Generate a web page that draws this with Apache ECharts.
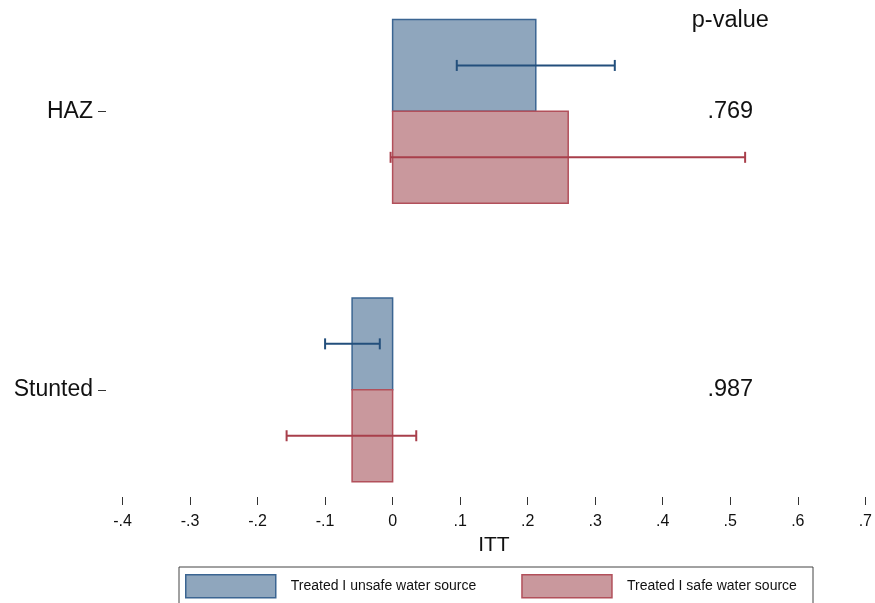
<!DOCTYPE html>
<html>
<head>
<meta charset="utf-8">
<script src="https://cdn.jsdelivr.net/npm/echarts@6/dist/echarts.min.js"></script>
<style>
  html, body { margin: 0; padding: 0; background: #fff; }
  #chart { width: 875px; height: 603px; }
</style>
</head>
<body>
<div id="chart"></div>
<script>
// Outcomes (top to bottom)
const categories = ['HAZ', 'Stunted'];

// Intention-to-treat estimates with 95% confidence bounds
const unsafeITT = [0.212, -0.060];
const unsafeLow = [0.095, -0.100];
const unsafeHigh = [0.329, -0.019];

const safeITT = [0.260, -0.060];
const safeLow = [-0.003, -0.157];
const safeHigh = [0.522, 0.035];

// p-values of the difference between the two groups
const pValues = ['.769', '.987'];
const pHeader = 'p-value';

const seriesNames = ['Treated I unsafe water source', 'Treated I safe water source'];

// x-axis ticks
const xMin = -0.4, xMax = 0.7, xStep = 0.1;

const FONT = '"Liberation Sans", Arial, Helvetica, sans-serif';
const TEXT = '#111111';
const BLUE_FILL = '#8fa6bd', BLUE_EDGE = '#3b6592', BLUE_ERR = '#234f7c';
const RED_FILL = '#c9989d', RED_EDGE = '#b2505b', RED_ERR = '#a83f4b';
const BAR_H = 0.33;      // bar thickness in y-axis units
const CAP_PX = 5.5;      // half-height of error-bar caps
const P_COL_X = 0.5;     // x position of the p-value column
const P_HEAD_Y = 1.325;  // y position of the column header

// Outcome index -> vertical position (first outcome on top)
const yPos = i => categories.length - 1 - i;

const unsafeBars = unsafeITT.map((v, i) => [v, yPos(i)]);
const safeBars = safeITT.map((v, i) => [v, yPos(i)]);
const unsafeErr = unsafeLow.map((lo, i) => [lo, unsafeHigh[i], yPos(i)]);
const safeErr = safeLow.map((lo, i) => [lo, safeHigh[i], yPos(i)]);
const pData = pValues.map((p, i) => [P_COL_X, yPos(i), p]).concat([[P_COL_X, P_HEAD_Y, pHeader]]);

function barRenderer(side, fill, edge) {
  return function (params, api) {
    const pos = api.value(1);
    const a = api.coord([0, pos]);
    const b = api.coord([api.value(0), pos + side * BAR_H]);
    return {
      type: 'rect',
      shape: {
        x: Math.min(a[0], b[0]), y: Math.min(a[1], b[1]),
        width: Math.abs(b[0] - a[0]), height: Math.abs(b[1] - a[1])
      },
      style: { fill: fill, stroke: edge, lineWidth: 1.5 }
    };
  };
}

function errRenderer(side, color) {
  return function (params, api) {
    const y = api.value(2) + side * BAR_H / 2;
    const l = api.coord([api.value(0), y]);
    const r = api.coord([api.value(1), y]);
    const st = { stroke: color, lineWidth: 2 };
    return {
      type: 'group',
      children: [
        { type: 'line', shape: { x1: l[0], y1: l[1], x2: r[0], y2: r[1] }, style: st },
        { type: 'line', shape: { x1: l[0], y1: l[1] - CAP_PX, x2: l[0], y2: l[1] + CAP_PX }, style: st },
        { type: 'line', shape: { x1: r[0], y1: r[1] - CAP_PX, x2: r[0], y2: r[1] + CAP_PX }, style: st }
      ]
    };
  };
}

function textRenderer(params, api) {
  const p = api.coord([api.value(0), api.value(1)]);
  return {
    type: 'text',
    x: p[0], y: p[1],
    style: {
      text: pData[params.dataIndex][2],
      fill: TEXT, font: '23.5px ' + FONT,
      align: 'center', verticalAlign: 'middle'
    }
  };
}

const chart = echarts.init(document.getElementById('chart'), null, { renderer: 'canvas' });

chart.setOption({
  animation: false,
  backgroundColor: '#fff',
  textStyle: { fontFamily: FONT, color: TEXT },
  grid: { left: 122.5, right: 9, top: 0, height: 497 },
  xAxis: {
    type: 'value',
    min: xMin, max: xMax, interval: xStep,
    axisLine: { show: false, onZero: false },
    axisTick: { show: true, inside: false, length: 8, lineStyle: { color: '#333', width: 1 } },
    splitLine: { show: false },
    axisLabel: {
      margin: 17, fontSize: 16, color: TEXT, fontFamily: FONT,
      formatter: v => {
        const r = Math.round(v * 10) / 10;
        if (r === 0) return '0';
        return r.toFixed(1).replace(/^(-?)0\./, '$1.');
      }
    },
    name: 'ITT', nameLocation: 'middle', nameGap: 31,
    nameTextStyle: { fontSize: 21, color: TEXT, fontFamily: FONT }
  },
  yAxis: {
    type: 'value',
    min: -0.385, max: 1.4,
    offset: 16.5,
    axisLine: { show: false, onZero: false },
    splitLine: { show: false },
    axisTick: { show: true, length: 8, customValues: [0, 1], lineStyle: { color: '#333', width: 1 } },
    axisLabel: {
      customValues: [0, 1], margin: 13, fontSize: 23, color: TEXT, fontFamily: FONT,
      formatter: v => categories[yPos(Math.round(v))]
    }
  },
  legend: {
    left: 180, top: 569,
    itemWidth: 90, itemHeight: 23, itemGap: 45,
    icon: 'rect',
    textStyle: { fontSize: 14, color: TEXT, fontFamily: FONT, padding: [0, 0, 0, 10] },
    data: [
      { name: seriesNames[0], itemStyle: { color: BLUE_FILL, borderColor: BLUE_EDGE, borderWidth: 1.5 } },
      { name: seriesNames[1], itemStyle: { color: RED_FILL, borderColor: RED_EDGE, borderWidth: 1.5 } }
    ]
  },
  graphic: [{
    type: 'rect', left: 176.5, top: 564.5,
    shape: { width: 634, height: 60 },
    style: { fill: null, stroke: '#444', lineWidth: 1 },
    silent: true
  }],
  series: [
    {
      name: seriesNames[0], type: 'custom', data: unsafeBars,
      itemStyle: { color: BLUE_FILL },
      renderItem: barRenderer(1, BLUE_FILL, BLUE_EDGE), z: 2
    },
    {
      name: seriesNames[1], type: 'custom', data: safeBars,
      itemStyle: { color: RED_FILL },
      renderItem: barRenderer(-1, RED_FILL, RED_EDGE), z: 2
    },
    {
      type: 'custom', data: unsafeErr, encode: { x: [0, 1], y: 2 },
      renderItem: errRenderer(1, BLUE_ERR), z: 3
    },
    {
      type: 'custom', data: safeErr, encode: { x: [0, 1], y: 2 },
      renderItem: errRenderer(-1, RED_ERR), z: 3
    },
    {
      type: 'custom', data: pData, encode: { x: 0, y: 1 },
      renderItem: textRenderer, z: 4
    }
  ]
});
</script>
</body>
</html>
